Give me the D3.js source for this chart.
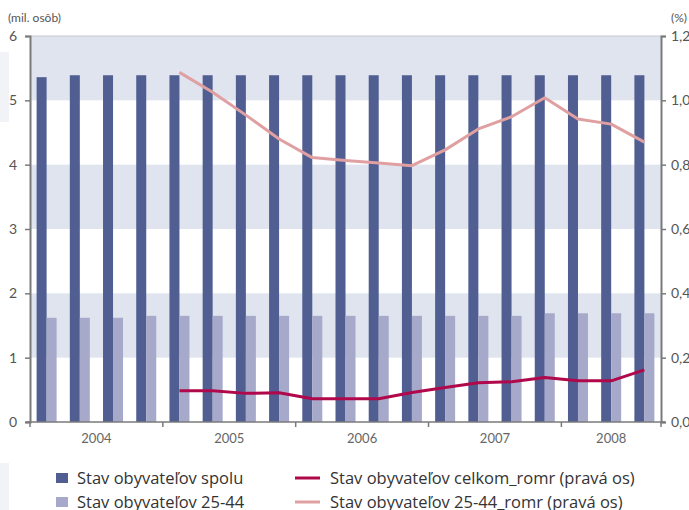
<!DOCTYPE html>
<html><head><meta charset="utf-8">
<script src="https://cdn.jsdelivr.net/npm/d3@7/dist/d3.min.js"></script>
<style>
body{margin:0;background:#fff;}
svg{display:block;font-family:"Open Sans",sans-serif;}
</style></head>
<body><svg id="c" width="689" height="510"></svg>
<script>
const quarters = ["2004Q1","2004Q2","2004Q3","2004Q4","2005Q1","2005Q2","2005Q3","2005Q4","2006Q1","2006Q2","2006Q3","2006Q4","2007Q1","2007Q2","2007Q3","2007Q4","2008Q1","2008Q2","2008Q3"];
const years = ["2004","2005","2006","2007","2008"];
const spolu = [5.36,5.39,5.39,5.39,5.39,5.39,5.39,5.39,5.39,5.39,5.39,5.39,5.39,5.39,5.39,5.39,5.39,5.39,5.39];
const vek2544 = [1.62,1.62,1.62,1.65,1.65,1.65,1.65,1.65,1.65,1.65,1.65,1.65,1.65,1.65,1.65,1.69,1.69,1.69,1.69];
const celkomRomr = [null,null,null,null,0.097,0.097,0.089,0.091,0.072,0.072,0.072,0.092,0.107,0.122,0.125,0.138,0.128,0.128,0.162];
const vekRomr = [null,null,null,null,1.087,1.025,0.954,0.880,0.822,0.813,0.805,0.797,0.846,0.911,0.949,1.008,0.942,0.926,0.870];
const leftTicks = [0,1,2,3,4,5,6];
const rightTicks = [0,0.2,0.4,0.6,0.8,1.0,1.2];
const seriesNames = ["Stav obyvateľov spolu","Stav obyvateľov 25-44","Stav obyvateľov celkom_romr (pravá os)","Stav obyvateľov 25-44_romr (pravá os)"];
const colors = {dark:"#505e92", light:"#a6a9c9", red:"#b0084a", pink:"#e0a0a2", band:"#dfe4ef"};

const svg = d3.select("#c");
const L=30, R=661, T=36, B=422;
const x = d3.scaleBand().domain(quarters).range([L,R]).padding(0);
const yL = d3.scaleLinear().domain([0,6]).range([B,T]);
const yR = d3.scaleLinear().domain([0,1.2]).range([B,T]);
const fmt = d3.format(".1f");

// page artifacts at left edge
svg.append("rect").attr("x",0).attr("y",52).attr("width",9).attr("height",70).attr("fill","#f2f3f6");
svg.append("rect").attr("x",0).attr("y",463).attr("width",9).attr("height",47).attr("fill","#f2f3f6");

// bands
for(let i=1;i<6;i+=2){
  svg.append("rect").attr("x",L).attr("width",R-L).attr("y",yL(i+1)).attr("height",yL(i)-yL(i+1)).attr("fill",colors.band);
}
svg.append("line").attr("x1",L).attr("x2",R).attr("y1",T).attr("y2",T).attr("stroke","#c4c8d2").attr("stroke-width",1);

// bars
const bw = 10;
svg.append("g").selectAll("rect").data(quarters).join("rect")
  .attr("x",d=>x(d)+x.bandwidth()/2-bw).attr("width",bw)
  .attr("y",(d,i)=>yL(spolu[i])).attr("height",(d,i)=>yL(0)-yL(spolu[i]))
  .attr("fill",colors.dark);
svg.append("g").selectAll("rect").data(quarters).join("rect")
  .attr("x",d=>x(d)+x.bandwidth()/2).attr("width",bw)
  .attr("y",(d,i)=>yL(vek2544[i])).attr("height",(d,i)=>yL(0)-yL(vek2544[i]))
  .attr("fill",colors.light);

// lines
const line = d3.line().defined(d=>d.v!=null).x(d=>x(d.q)+x.bandwidth()/2).y(d=>yR(d.v));
svg.append("path").datum(quarters.map((q,i)=>({q,v:vekRomr[i]})))
  .attr("d",line).attr("fill","none").attr("stroke",colors.pink).attr("stroke-width",3).attr("stroke-linejoin","round");
svg.append("path").datum(quarters.map((q,i)=>({q,v:celkomRomr[i]})))
  .attr("d",line).attr("fill","none").attr("stroke",colors.red).attr("stroke-width",3).attr("stroke-linejoin","round");

// axes
const axisColor="#7a7a7a", textColor="#555";
const gl = svg.append("g").attr("transform",`translate(${L},0)`)
  .call(d3.axisLeft(yL).tickValues(leftTicks).tickSize(5).tickPadding(8).tickFormat(d3.format("d")));
const gr = svg.append("g").attr("transform",`translate(${R},0)`)
  .call(d3.axisRight(yR).tickValues(rightTicks).tickSize(5).tickPadding(5).tickFormat(d=>fmt(d).replace(".",",")));
[gl,gr].forEach(g=>{
  g.select(".domain").attr("stroke",axisColor).attr("stroke-width",2);
  g.selectAll(".tick line").attr("stroke",axisColor).attr("stroke-width",1.5);
  g.selectAll("text").attr("fill",textColor).style("font-size","14px").style("font-family","Lato,'Open Sans',sans-serif");
});

// bottom axis
svg.append("line").attr("x1",L-4).attr("x2",R+4).attr("y1",B).attr("y2",B).attr("stroke",axisColor).attr("stroke-width",1.5);
const yearStart = y=>x(y+"Q1");
const yearEnd = y=>{const qs=quarters.filter(q=>q.startsWith(y)); return x(qs[qs.length-1])+x.bandwidth();};
const bounds = years.map(yearStart).concat([R]);
svg.append("g").selectAll("line").data(bounds).join("line")
  .attr("x1",d=>d).attr("x2",d=>d).attr("y1",B).attr("y2",B+5).attr("stroke",axisColor).attr("stroke-width",1.5);
svg.append("g").selectAll("text").data(years).join("text")
  .attr("x",d=>(yearStart(d)+yearEnd(d))/2).attr("y",443).attr("text-anchor","middle")
  .attr("fill","#666").style("font-size","13px").style("font-family","Lato,'Open Sans',sans-serif").text(d=>d);

// unit labels
svg.append("text").attr("x",8).attr("y",22).attr("fill",textColor).style("font-size","12px").style("font-family","Lato,sans-serif").text("(mil. osôb)");
svg.append("text").attr("x",671).attr("y",22).attr("fill",textColor).style("font-size","12px").style("font-family","Lato,sans-serif").text("(%)");

// legend
const lg = svg.append("g").style("font-size","16.5px").style("font-family","'Open Sans',sans-serif");
const lx1=56, lx2=295, ly1=478, ly2=502;
lg.append("rect").attr("x",lx1).attr("y",ly1-5).attr("width",12).attr("height",10).attr("fill",colors.dark);
lg.append("rect").attr("x",lx1).attr("y",ly2-5).attr("width",12).attr("height",10).attr("fill",colors.light);
lg.append("line").attr("x1",lx2).attr("x2",lx2+25).attr("y1",ly1).attr("y2",ly1).attr("stroke",colors.red).attr("stroke-width",3);
lg.append("line").attr("x1",lx2).attr("x2",lx2+25).attr("y1",ly2).attr("y2",ly2).attr("stroke",colors.pink).attr("stroke-width",3);
[[lx1+21,ly1,0],[lx1+21,ly2,1],[lx2+35,ly1,2],[lx2+35,ly2,3]].forEach(([tx,ty,i])=>{
  lg.append("text").attr("x",tx).attr("y",ty+6).attr("fill","#333").text(seriesNames[i]);
});
</script></body></html>
